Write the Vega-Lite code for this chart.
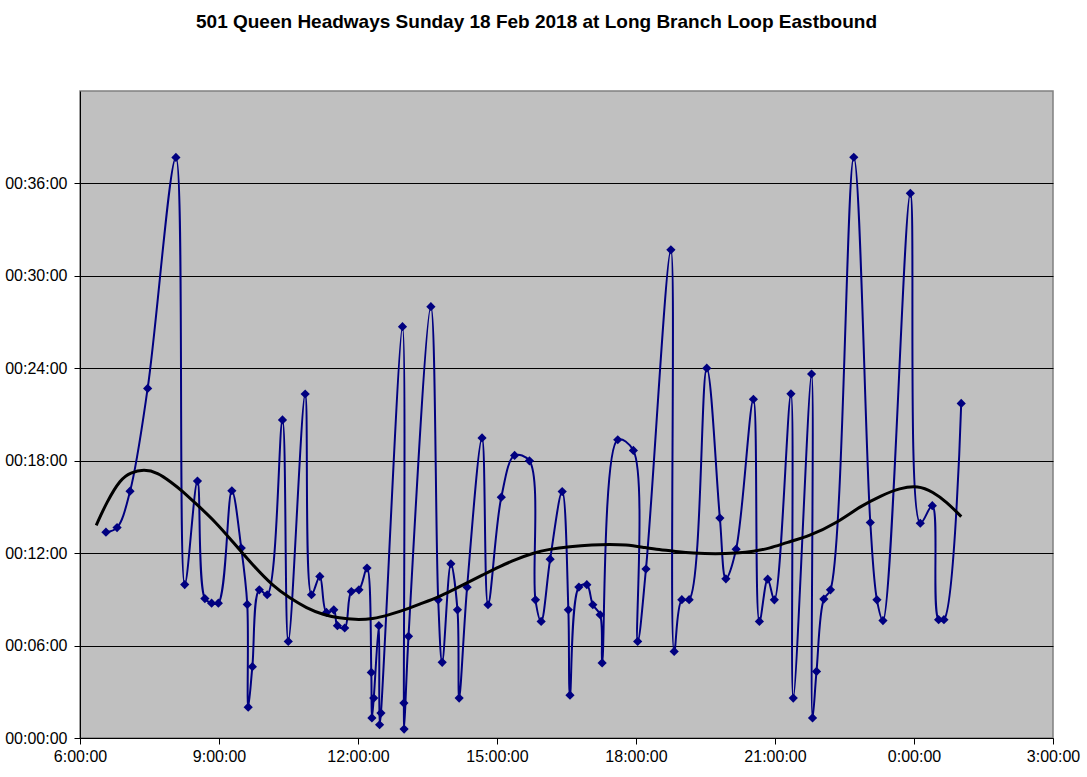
{
  "$schema": "https://vega.github.io/schema/vega-lite/v6.json",
  "width": 973,
  "height": 647,
  "autosize": {"type": "none"},
  "padding": {"left": 80, "top": 91, "right": 34, "bottom": 39},
  "background": "#FFFFFF",
  "title": {
    "text": "501 Queen Headways Sunday 18 Feb 2018 at Long Branch Loop Eastbound",
    "font": "Liberation Sans",
    "fontSize": 19,
    "fontWeight": "bold",
    "color": "#000000",
    "anchor": "middle",
    "dx": -30,
    "offset": 59
  },
  "config": {
    "view": {"fill": "#C0C0C0", "stroke": "#808080", "strokeWidth": 1.5},
    "axis": {
      "labelFont": "Liberation Sans",
      "labelFontSize": 16,
      "labelColor": "#000000",
      "domainColor": "#000000",
      "tickColor": "#000000",
      "tickSize": 6,
      "labelFlush": false,
      "labelOverlap": false,
      "title": null
    }
  },
  "datasets": {
    "pts": [
      {"t": 6.56, "m": 13.36}, {"t": 6.80, "m": 13.66}, {"t": 7.08, "m": 16.02}, {"t": 7.46, "m": 22.69},
      {"t": 8.07, "m": 37.69}, {"t": 8.26, "m": 9.96}, {"t": 8.535, "m": 16.68}, {"t": 8.695, "m": 9.05},
      {"t": 8.84, "m": 8.75}, {"t": 8.986, "m": 8.75}, {"t": 9.277, "m": 16.05}, {"t": 9.48, "m": 12.33},
      {"t": 9.61, "m": 8.67}, {"t": 9.63, "m": 2.0}, {"t": 9.72, "m": 4.63}, {"t": 9.87, "m": 9.62},
      {"t": 10.04, "m": 9.30}, {"t": 10.37, "m": 20.65}, {"t": 10.495, "m": 6.27}, {"t": 10.86, "m": 22.33},
      {"t": 10.996, "m": 9.30}, {"t": 11.176, "m": 10.49}, {"t": 11.319, "m": 8.15}, {"t": 11.477, "m": 8.32},
      {"t": 11.556, "m": 7.29}, {"t": 11.713, "m": 7.14}, {"t": 11.857, "m": 9.51}, {"t": 12.02, "m": 9.62},
      {"t": 12.194, "m": 11.03}, {"t": 12.287, "m": 4.26}, {"t": 12.30, "m": 1.30}, {"t": 12.34, "m": 2.59},
      {"t": 12.45, "m": 7.29}, {"t": 12.466, "m": 0.86}, {"t": 12.495, "m": 1.62}, {"t": 12.96, "m": 26.7},
      {"t": 12.99, "m": 2.27}, {"t": 12.995, "m": 0.58}, {"t": 13.09, "m": 6.6}, {"t": 13.573, "m": 28.0},
      {"t": 13.731, "m": 8.97}, {"t": 13.817, "m": 4.91}, {"t": 14.004, "m": 11.31}, {"t": 14.147, "m": 8.32},
      {"t": 14.183, "m": 2.59}, {"t": 14.355, "m": 9.79}, {"t": 14.677, "m": 19.48}, {"t": 14.806, "m": 8.65},
      {"t": 15.093, "m": 15.63}, {"t": 15.38, "m": 18.34}, {"t": 15.70, "m": 17.99}, {"t": 15.83, "m": 8.97},
      {"t": 15.953, "m": 7.57}, {"t": 16.147, "m": 11.61}, {"t": 16.407, "m": 16.0}, {"t": 16.54, "m": 8.32},
      {"t": 16.575, "m": 2.78}, {"t": 16.767, "m": 9.80}, {"t": 16.939, "m": 9.95}, {"t": 17.068, "m": 8.65},
      {"t": 17.226, "m": 8.0}, {"t": 17.269, "m": 4.87}, {"t": 17.606, "m": 19.36}, {"t": 17.943, "m": 18.67},
      {"t": 18.036, "m": 6.27}, {"t": 18.215, "m": 10.97}, {"t": 18.753, "m": 31.69}, {"t": 18.824, "m": 5.62},
      {"t": 18.989, "m": 8.98}, {"t": 19.147, "m": 8.98}, {"t": 19.527, "m": 24.01}, {"t": 19.81, "m": 14.28},
      {"t": 19.94, "m": 10.33}, {"t": 20.161, "m": 12.26}, {"t": 20.534, "m": 21.99}, {"t": 20.663, "m": 7.57},
      {"t": 20.842, "m": 10.31}, {"t": 20.986, "m": 8.97}, {"t": 21.344, "m": 22.34}, {"t": 21.394, "m": 2.59},
      {"t": 21.789, "m": 23.63}, {"t": 21.81, "m": 1.30}, {"t": 21.896, "m": 4.32}, {"t": 22.054, "m": 9.02},
      {"t": 22.197, "m": 9.62}, {"t": 22.70, "m": 37.7}, {"t": 23.057, "m": 13.99}, {"t": 23.2, "m": 8.97},
      {"t": 23.33, "m": 7.62}, {"t": 23.921, "m": 35.36}, {"t": 24.136, "m": 13.94}, {"t": 24.395, "m": 15.08},
      {"t": 24.531, "m": 7.68}, {"t": 24.646, "m": 7.68}, {"t": 25.019, "m": 21.72}
    ],
    "trend": [
      {"t": 6.35, "m": 13.81}, {"t": 6.58, "m": 15.34}, {"t": 6.874, "m": 16.81}, {"t": 7.09, "m": 17.24},
      {"t": 7.38, "m": 17.44}, {"t": 7.675, "m": 17.24}, {"t": 7.97, "m": 16.6}, {"t": 8.185, "m": 16.1},
      {"t": 8.55, "m": 15.08}, {"t": 8.91, "m": 14.07}, {"t": 9.28, "m": 12.8}, {"t": 9.71, "m": 11.28},
      {"t": 10.17, "m": 9.84}, {"t": 10.53, "m": 9.08}, {"t": 10.89, "m": 8.43}, {"t": 11.25, "m": 8.0},
      {"t": 11.6, "m": 7.78}, {"t": 11.93, "m": 7.68}, {"t": 12.32, "m": 7.72}, {"t": 12.68, "m": 8.0},
      {"t": 13.11, "m": 8.43}, {"t": 13.34, "m": 8.7}, {"t": 13.77, "m": 9.19}, {"t": 14.05, "m": 9.62},
      {"t": 14.34, "m": 10.05}, {"t": 14.7, "m": 10.6}, {"t": 15.06, "m": 11.14}, {"t": 15.42, "m": 11.61},
      {"t": 15.77, "m": 12.0}, {"t": 16.13, "m": 12.26}, {"t": 16.56, "m": 12.43}, {"t": 17.07, "m": 12.55},
      {"t": 17.43, "m": 12.57}, {"t": 17.78, "m": 12.55}, {"t": 18.14, "m": 12.39}, {"t": 18.5, "m": 12.22},
      {"t": 18.86, "m": 12.11}, {"t": 19.22, "m": 12.0}, {"t": 19.72, "m": 11.93}, {"t": 20.18, "m": 12.0},
      {"t": 20.53, "m": 12.1}, {"t": 20.89, "m": 12.32}, {"t": 21.25, "m": 12.69}, {"t": 21.75, "m": 13.12},
      {"t": 22.33, "m": 13.95}, {"t": 22.83, "m": 15.03}, {"t": 23.3, "m": 15.75}, {"t": 23.69, "m": 16.22},
      {"t": 24.09, "m": 16.4}, {"t": 24.41, "m": 15.97}, {"t": 24.7, "m": 15.34}, {"t": 25.02, "m": 14.37}
    ]
  },
  "encoding": {
    "x": {
      "field": "t",
      "type": "quantitative",
      "scale": {"domain": [6, 27], "nice": false, "zero": false},
      "axis": {
        "values": [6, 9, 12, 15, 18, 21, 24, 27],
        "labelExpr": "(datum.value % 24) + ':00:00'",
        "grid": false,
        "labelPadding": 4
      }
    },
    "y": {
      "field": "m",
      "type": "quantitative",
      "scale": {"domain": [0, 42], "nice": false},
      "axis": {
        "values": [0, 6, 12, 18, 24, 30, 36],
        "labelExpr": "'00:' + (datum.value < 10 ? '0' + datum.value : datum.value) + ':00'",
        "grid": true,
        "gridColor": "#000000",
        "gridWidth": 1,
        "gridOpacity": 1,
        "labelPadding": 7
      }
    }
  },
  "layer": [
    {
      "data": {"name": "pts"},
      "mark": {"type": "line", "interpolate": "catmull-rom", "color": "#000080", "strokeWidth": 2}
    },
    {
      "data": {"name": "pts"},
      "mark": {"type": "point", "shape": "diamond", "filled": true, "color": "#000080", "opacity": 1, "size": 85}
    },
    {
      "data": {"name": "trend"},
      "mark": {"type": "line", "interpolate": "basis", "color": "#000000", "strokeWidth": 3}
    }
  ]
}
